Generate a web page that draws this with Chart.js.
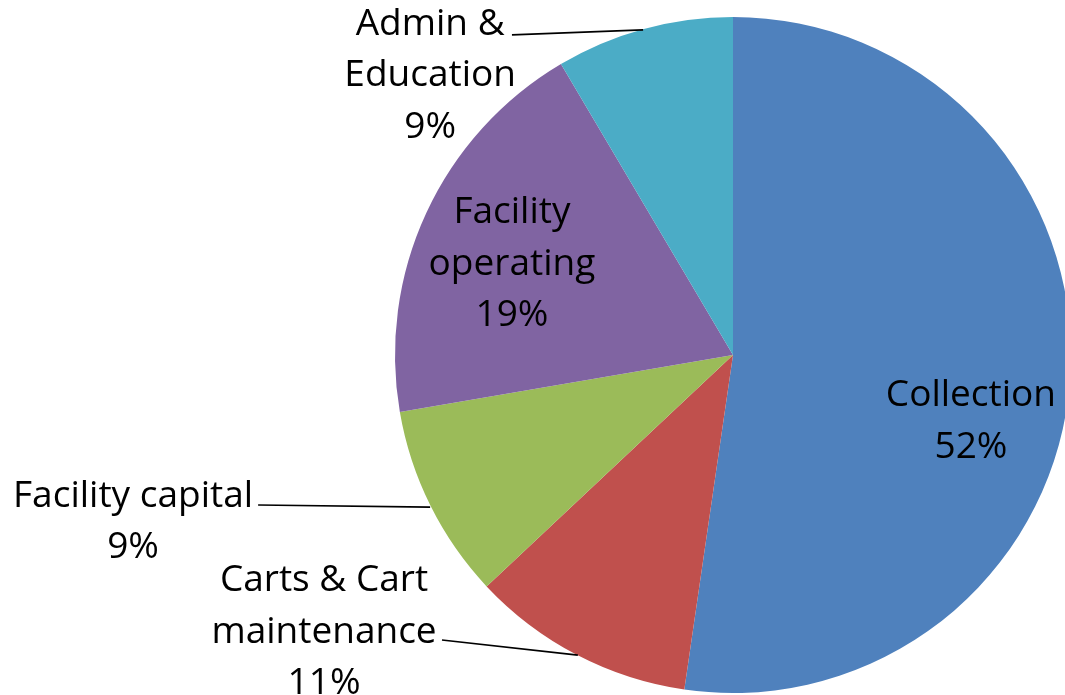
<!DOCTYPE html>
<html>
<head>
<meta charset="utf-8">
<script src="https://cdn.jsdelivr.net/npm/chart.js@4/dist/chart.umd.min.js"></script>
<style>
  html, body { margin: 0; padding: 0; background: #fff; overflow: hidden; }
  #wrap { width: 1065px; height: 695px; overflow: hidden; }
</style>
</head>
<body>
<div id="wrap"><canvas id="pie" width="1080" height="695"></canvas></div>
<script>
// data
const categories = ['Collection', 'Carts & Cart maintenance', 'Facility capital', 'Facility operating', 'Admin & Education'];
const shares = [52.3, 10.7, 9.3, 19.2, 8.5];
const pctLabels = ['52%', '11%', '9%', '19%', '9%'];
const sliceColors = ['#4F81BD', '#C0504D', '#9BBB59', '#8064A2', '#4BACC6'];

// label text lines, as Excel wrapped them
const labelLines = [
  ['Collection'],
  ['Carts & Cart', 'maintenance'],
  ['Facility capital'],
  ['Facility', 'operating'],
  ['Admin &', 'Education']
];

// label placement relative to pie centre, in radius units
const labelSpots = [
  { x: 0.704, y: 0.121 },
  { x: -1.210, y: 0.668 },
  { x: -1.775, y: 0.418 },
  { x: -0.654, y: -0.421 },
  { x: -0.896, y: -0.978 }
];
const leaders = [
  null,
  { from: [-0.861, 0.843], to: [-0.459, 0.888] },
  { from: [-1.405, 0.444], to: [-0.896, 0.450] },
  null,
  { from: [-0.654, -0.947], to: [-0.266, -0.962] }
];

const lineGap = 51.5;

const pieLabels = {
  id: 'pieLabels',
  afterDatasetsDraw(chart) {
    const arc = chart.getDatasetMeta(0).data[0];
    const cx = arc.x, cy = arc.y, r = arc.outerRadius;
    const ctx = chart.ctx;
    ctx.save();
    ctx.fillStyle = '#000';
    ctx.strokeStyle = '#000';
    ctx.lineWidth = 1.6;
    ctx.font = '37px "Open Sans"';
    ctx.textAlign = 'center';
    ctx.textBaseline = 'middle';
    categories.forEach((c, i) => {
      const lines = labelLines[i].concat([pctLabels[i]]);
      const x = cx + labelSpots[i].x * r;
      const y = cy + labelSpots[i].y * r;
      lines.forEach((t, k) => ctx.fillText(t, x, y + k * lineGap));
      const ld = leaders[i];
      if (ld) {
        ctx.beginPath();
        ctx.moveTo(cx + ld.from[0] * r, cy + ld.from[1] * r);
        ctx.lineTo(cx + ld.to[0] * r, cy + ld.to[1] * r);
        ctx.stroke();
      }
    });
    ctx.restore();
  }
};

new Chart(document.getElementById('pie').getContext('2d'), {
  type: 'pie',
  data: {
    labels: categories,
    datasets: [{
      data: shares,
      backgroundColor: sliceColors,
      borderWidth: 0
    }]
  },
  options: {
    responsive: false,
    animation: false,
    layout: { padding: { left: 395, right: 9, top: 17, bottom: 2 } },
    plugins: {
      legend: { display: false },
      tooltip: { enabled: false }
    }
  },
  plugins: [pieLabels]
});
</script>
</body>
</html>
